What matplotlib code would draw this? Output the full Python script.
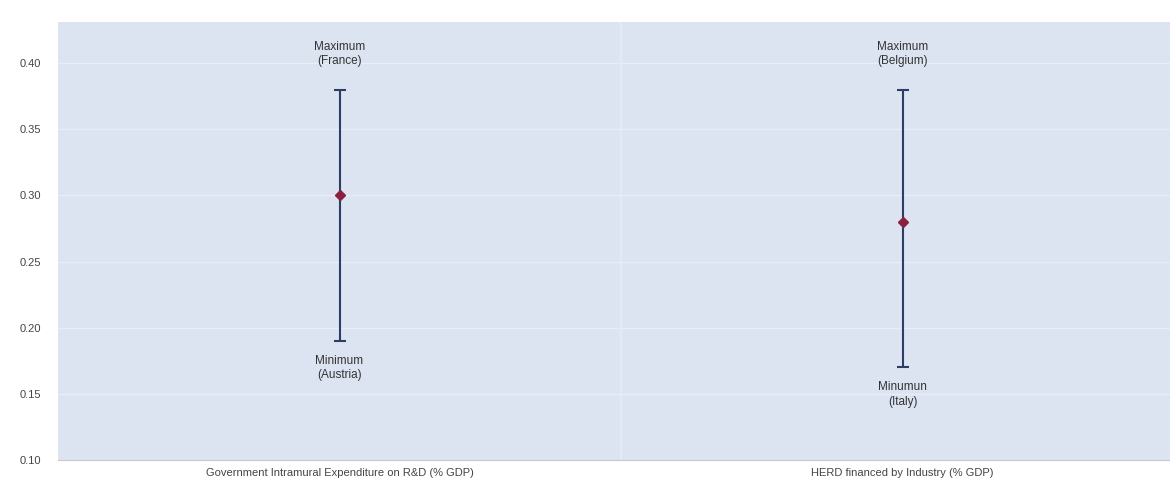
import matplotlib
matplotlib.use("Agg")
import matplotlib.pyplot as plt

# indicator names, mean, max, min
indicators = ['Government Intramural Expenditure on R&D (% GDP)',
              'HERD financed by Industry (% GDP)']
means = [0.30, 0.28]
maxs = [0.38, 0.38]
mins = [0.19, 0.17]
max_labels = ['Maximum\n(France)', 'Maximum\n(Belgium)']
min_labels = ['Minimum\n(Austria)', 'Minumun\n(Italy)']

plt.rcParams['font.family'] = ['Liberation Sans', 'DejaVu Sans']

fig = plt.figure(figsize=(11.7, 4.82), dpi=100)
ax = fig.add_axes([0.0496, 0.0456, 0.9504, 0.9084])
ax.set_facecolor('#dce4f2')

x = list(range(len(indicators)))
err_low = [m - lo for m, lo in zip(means, mins)]
err_high = [hi - m for m, hi in zip(means, maxs)]
ax.errorbar(x, means, yerr=[err_low, err_high], fmt='none', ecolor='#2e3d66',
            elinewidth=1.5, capsize=4.5, capthick=1.5, zorder=3)
ax.plot(x, means, linestyle='none', marker='D', markersize=5,
        color='#8a1f3f', zorder=4)

for i in x:
    ax.annotate(max_labels[i], (i, maxs[i]), xytext=(0, 16), textcoords='offset points',
                ha='center', va='bottom', fontsize=8.5, color='#333333', linespacing=1.25)
    ax.annotate(min_labels[i], (i, mins[i]), xytext=(0, -10), textcoords='offset points',
                ha='center', va='top', fontsize=8.5, color='#333333', linespacing=1.25)

ax.set_xlim(-0.5, 1.475)
ax.set_ylim(0.10, 0.431)
ax.set_yticks([0.10, 0.15, 0.20, 0.25, 0.30, 0.35, 0.40])
ax.set_yticklabels(['%.2f' % v for v in ax.get_yticks()])
ax.set_xticks(x)
ax.set_xticklabels(indicators)
ax.axvline(0.5, color='#e4e9f3', linewidth=1.5, zorder=1)
ax.grid(axis='y', color='#e8edf6', linewidth=1.0)
ax.set_axisbelow(True)
ax.tick_params(axis='both', length=0, labelsize=8, colors='#444444', pad=6)
ax.tick_params(axis='y', pad=12)
for side in ['top', 'right', 'left']:
    ax.spines[side].set_visible(False)
ax.spines['bottom'].set_color('#c8c8c8')

fig.savefig('out.png', dpi=100)
